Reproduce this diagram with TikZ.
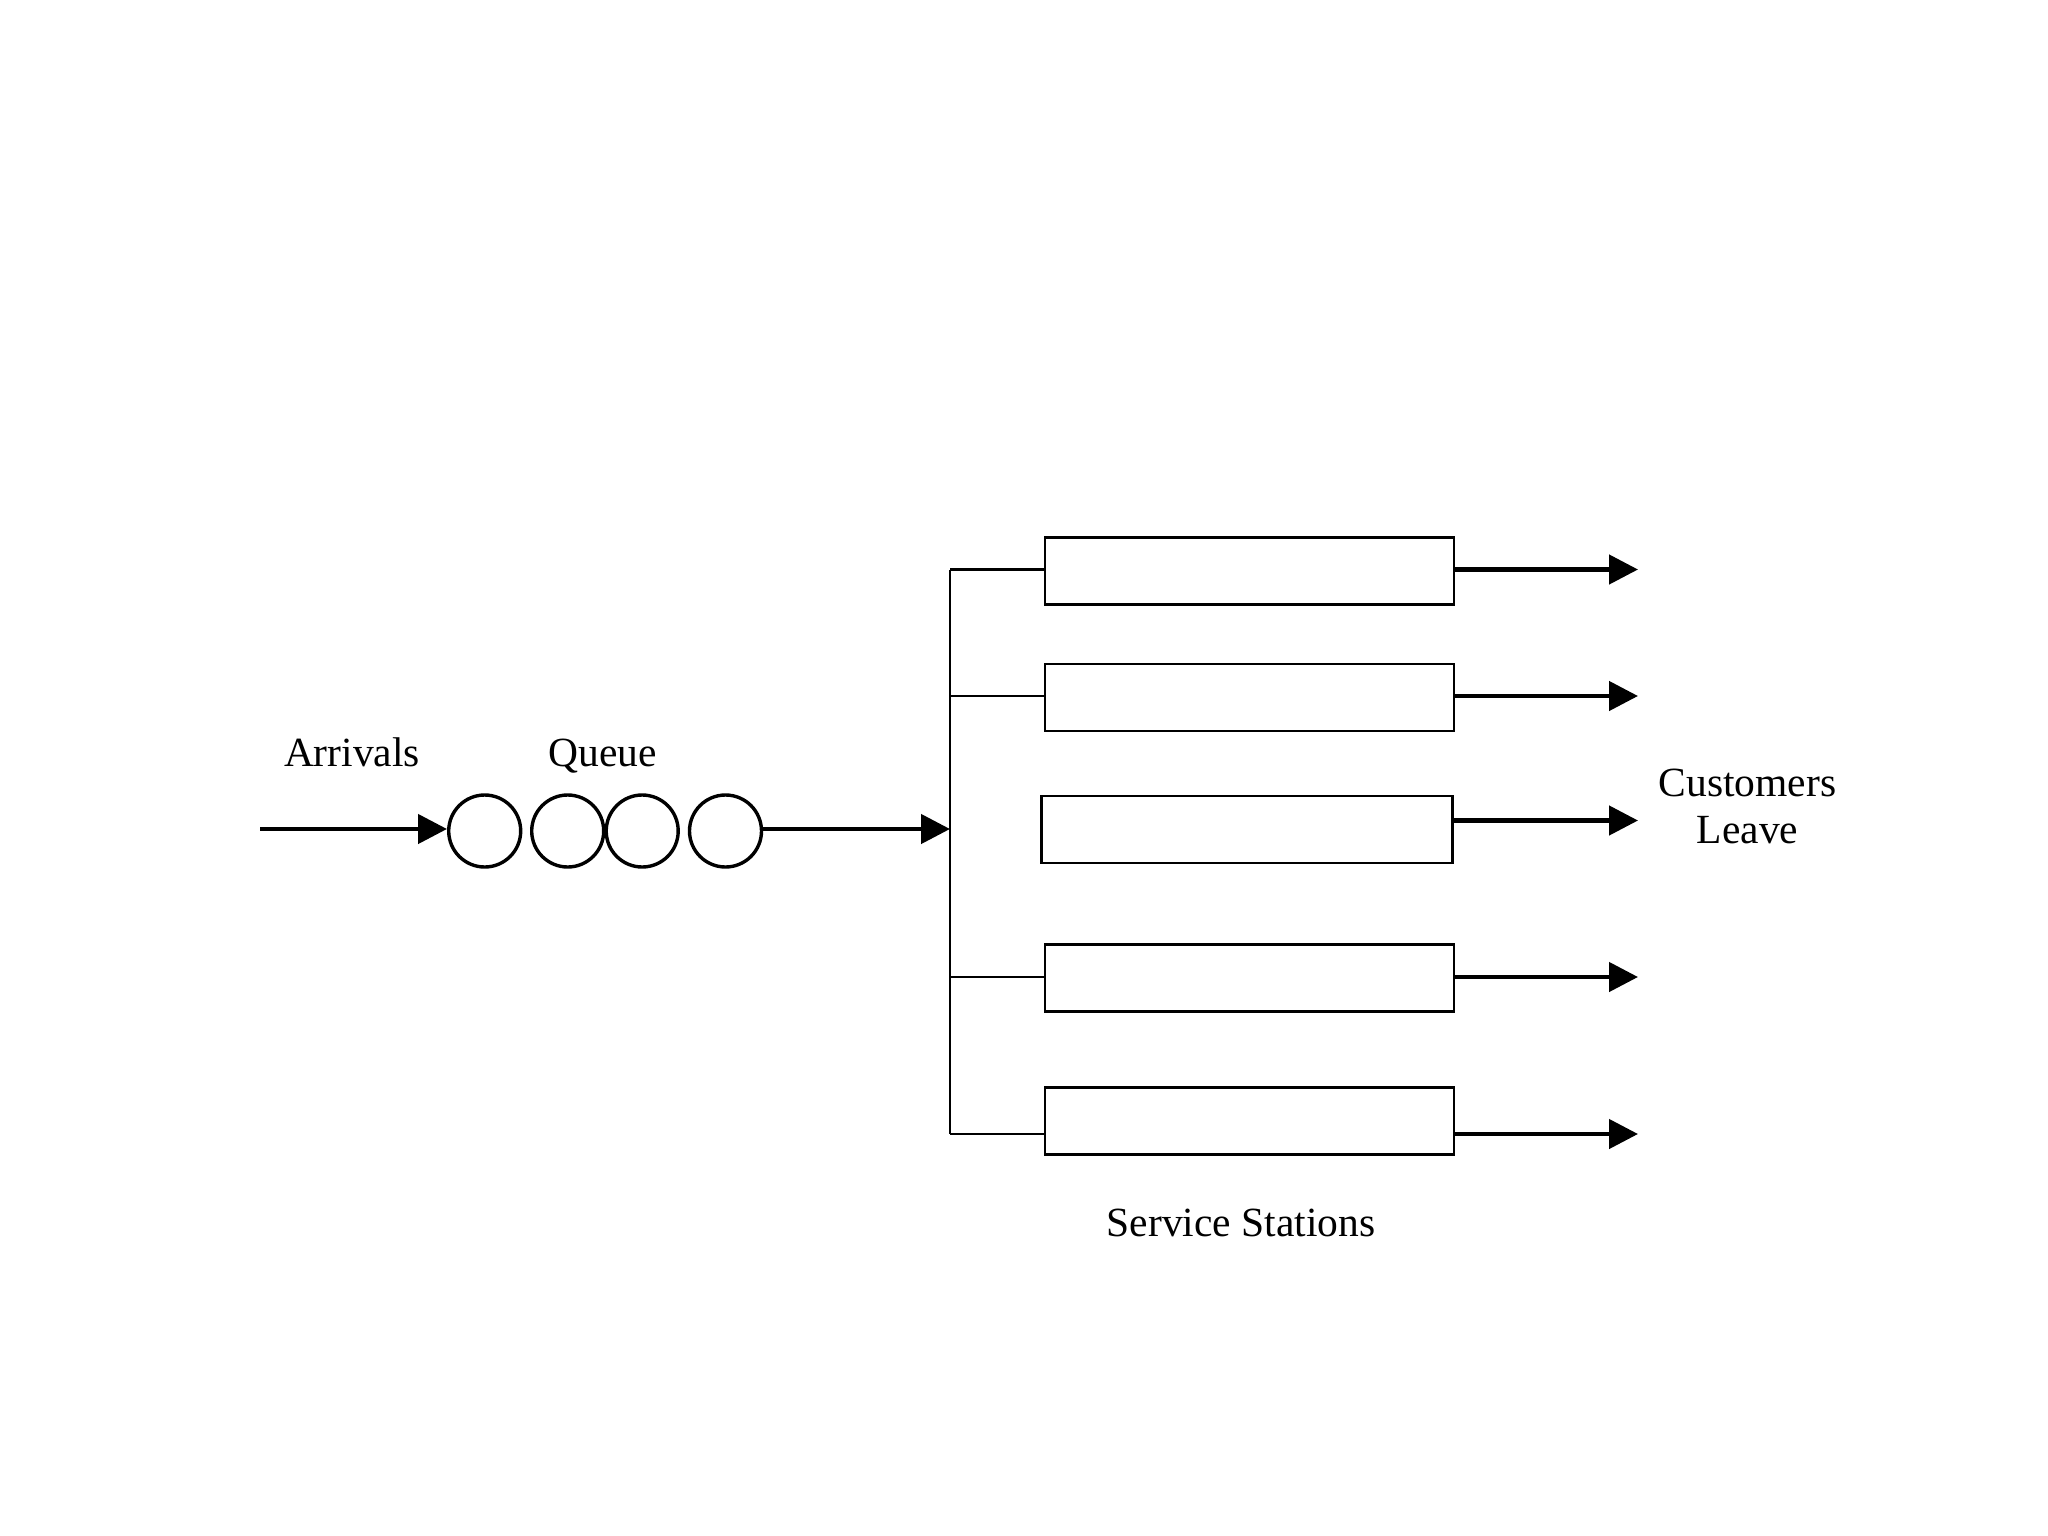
\documentclass[tikz,border=0pt]{standalone}
\usepackage{fontspec}
\setmainfont{Liberation Serif}
\usetikzlibrary{arrows.meta}
\begin{document}
\begin{tikzpicture}[x=1pt,y=-1pt,
  bigarrow/.style={line width=4.6pt,-{Triangle[length=29pt,width=29pt]}},
  cust/.style={circle,draw,line width=3.4pt,minimum size=72pt,inner sep=0pt},
  station/.style={draw,line width=2.2pt,minimum width=409pt,minimum height=67pt,inner sep=0pt},
  thin/.style={line width=2.2pt},
  lbl/.style={font=\fontsize{41.5}{47}\selectfont,inner sep=0pt,anchor=base}]
\useasboundingbox[fill=white] (0,0) rectangle (2048,1536);

% queue customers
\node[cust] (c1) at (484.7,831) {};
\node[cust] (c2) at (567.7,831) {};
\node[cust] (c3) at (642.2,831) {};
\node[cust] (c4) at (725.5,831) {};

% service stations
\node[station] (b1) at (1249.5,571) {};
\node[station] (b2) at (1249.5,697.5) {};
\node[station,minimum width=411pt] (b3) at (1247,829.5) {};
\node[station] (b4) at (1249.5,978) {};
\node[station] (b5) at (1249.5,1121) {};

% trunk junctions
\coordinate (j1) at (950,569.5);
\coordinate (j2) at (950,696);
\coordinate (j3) at (950,829);
\coordinate (j4) at (950,977);
\coordinate (j5) at (950,1134);
\draw[thin] (j1) -- (j5);
\draw[thin] (j1) -- (j1 -| b1.west);
\draw[thin] (j2) -- (j2 -| b2.west);
\draw[thin] (j4) -- (j4 -| b4.west);
\draw[thin] (j5) -- (j5 -| b5.west);

% arrivals and queue outflow
\coordinate (src) at (260,829);
\draw[bigarrow] (src) -- (src -| c1.west);
\draw[bigarrow] (j3 -| c4.east) -- (j3);

% departures
\coordinate (o1) at (1638,569.5);
\coordinate (o2) at (1638,696);
\coordinate (o3) at (1638,820.5);
\coordinate (o4) at (1638,977);
\coordinate (o5) at (1638,1134);
\draw[bigarrow] (o1 -| b1.east) -- (o1);
\draw[bigarrow] (o2 -| b2.east) -- (o2);
\draw[bigarrow] (o3 -| b3.east) -- (o3);
\draw[bigarrow] (o4 -| b4.east) -- (o4);
\draw[bigarrow] (o5 -| b5.east) -- (o5);

% labels
\node[lbl] (arr) at (352,766.5) {Arrivals};
\node[lbl] (que) at (602.6,766.5) {Queue};
\node[lbl] (cl1) at (1747.5,796) {Customers};
\node[lbl] (cl2) at (1747.5,843) {Leave};
\node[lbl] (ss) at (1241,1236) {Service Stations};
\end{tikzpicture}
\end{document}
